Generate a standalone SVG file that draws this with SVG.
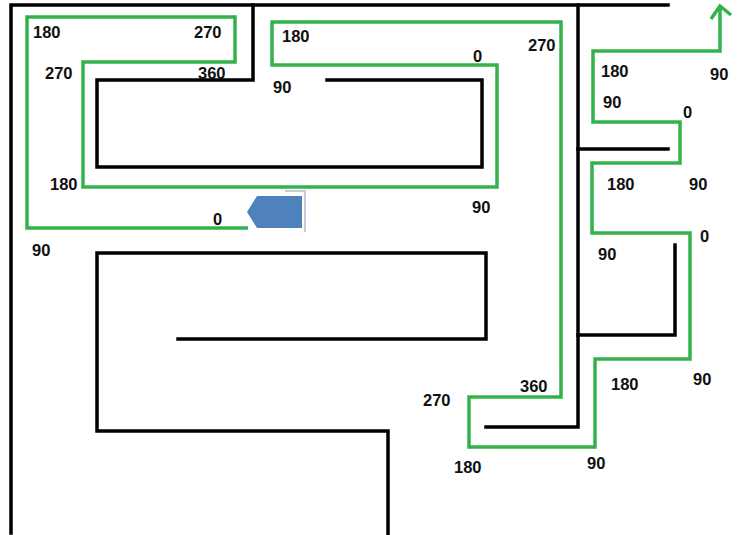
<svg xmlns="http://www.w3.org/2000/svg" width="752" height="535" viewBox="0 0 752 535">
<style>
.wall{fill:none;stroke:#000;stroke-width:3.5;stroke-linecap:square;stroke-linejoin:miter}
.route{fill:none;stroke:#33b24c;stroke-width:3.5;stroke-linejoin:miter}
.lbl{font-family:"Liberation Sans",Arial,sans-serif;font-weight:bold;font-size:16.5px;fill:#111}
</style>
<rect width="752" height="535" fill="#fff"/>
<g id="walls">
<path class="wall" d="M11,533 V5 H668"/>
<path class="wall" d="M253,5 V80 H97 V167 H482 V80 H327"/>
<path class="wall" d="M578,5 V427 H486"/>
<path class="wall" d="M578,149 H668"/>
<path class="wall" d="M578,335 H675 V245"/>
<path class="wall" d="M178,339 H486 V253 H97 V431 H388 V535"/>
</g>
<g id="robot">
<path d="M285,191 H305 V232" fill="none" stroke="#c3ccd8" stroke-width="2"/>
<polygon points="247,212 257,196 302,196 302,228 257,228" fill="#4f81bd"/>
</g>
<g id="route">
<path class="route" d="M248,228 H27 V17 H235 V62 H83 V187 H497 V65 H272 V22 H561 V397 H469 V447 H595 V359 H690 V233 H592 V163 H680 V122 H593 V51 H720 V6"/>
<path class="route" d="M711,19 L720,6 L731,15"/>
</g>
<g id="labels">
<text class="lbl" x="33" y="38">180</text>
<text class="lbl" x="194" y="38">270</text>
<text class="lbl" x="45" y="79">270</text>
<text class="lbl" x="198" y="79">360</text>
<text class="lbl" x="50" y="190">180</text>
<text class="lbl" x="213" y="225">0</text>
<text class="lbl" x="32" y="256">90</text>
<text class="lbl" x="282" y="42">180</text>
<text class="lbl" x="473" y="62">0</text>
<text class="lbl" x="528" y="51">270</text>
<text class="lbl" x="273" y="93">90</text>
<text class="lbl" x="472" y="213">90</text>
<text class="lbl" x="601" y="77">180</text>
<text class="lbl" x="710" y="80">90</text>
<text class="lbl" x="603" y="108">90</text>
<text class="lbl" x="683" y="118">0</text>
<text class="lbl" x="607" y="190">180</text>
<text class="lbl" x="689" y="190">90</text>
<text class="lbl" x="700" y="242">0</text>
<text class="lbl" x="598" y="260">90</text>
<text class="lbl" x="520" y="392">360</text>
<text class="lbl" x="423" y="406">270</text>
<text class="lbl" x="611" y="390">180</text>
<text class="lbl" x="693" y="385">90</text>
<text class="lbl" x="454" y="473">180</text>
<text class="lbl" x="587" y="469">90</text>
</g>
</svg>
